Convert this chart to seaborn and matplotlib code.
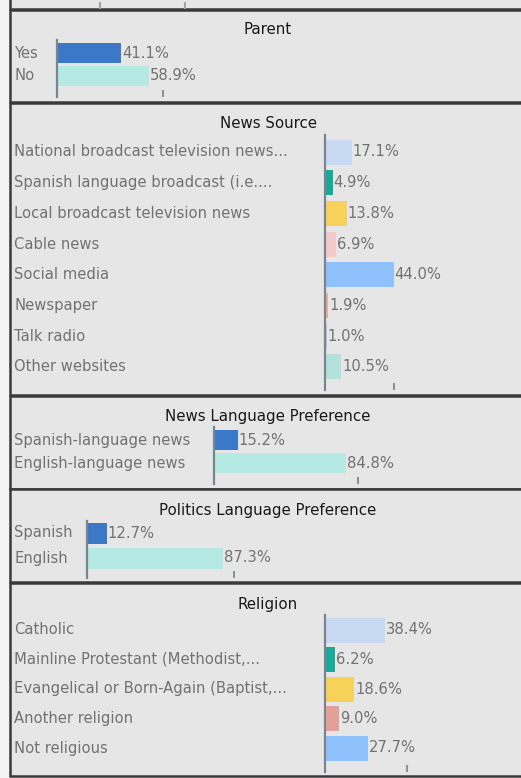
import matplotlib
matplotlib.use("Agg")
import matplotlib.pyplot as plt
import matplotlib.transforms as mtransforms
from matplotlib.patches import Rectangle
import seaborn as sns

# Chart data
parent_labels = ["Yes", "No"]
parent_values = [41.1, 58.9]

news_labels = ["National broadcast television news...", "Spanish language broadcast (i.e....",
               "Local broadcast television news", "Cable news", "Social media",
               "Newspaper", "Talk radio", "Other websites"]
news_values = [17.1, 4.9, 13.8, 6.9, 44.0, 1.9, 1.0, 10.5]

lang_labels = ["Spanish-language news", "English-language news"]
lang_values = [15.2, 84.8]

politics_labels = ["Spanish", "English"]
politics_values = [12.7, 87.3]

religion_labels = ["Catholic", "Mainline Protestant (Methodist,...",
                   "Evangelical or Born-Again (Baptist,...", "Another religion", "Not religious"]
religion_values = [38.4, 6.2, 18.6, 9.0, 27.7]

two_colors = ["#3b78c8", "#b4e9e4"]
news_colors = ["#c7daf1", "#17a999", "#f7d25a", "#f3caca", "#8fc2fd", "#f3a992", "#c8c8c8", "#b2e2db"]
religion_colors = ["#c7daf1", "#17a999", "#f7d25a", "#e3a098", "#8fc2fd"]

sns.set_style("white")
plt.rcParams['font.family'] = ['DejaVu Sans']

W, H = 521, 778
PX_PER_PCT = 1.56
LABEL_COLOR = "#727272"
PANEL_BG = "#e6e6e6"

fig = plt.figure(figsize=(W / 100, H / 100), dpi=100, facecolor="#f3f3f3")


def frame(top, bottom):
    rect = Rectangle((10 / W, 1 - bottom / H), (560 - 10) / W, (bottom - top) / H,
                     transform=fig.transFigure, facecolor=PANEL_BG,
                     edgecolor="#3a3a3a", linewidth=1.8, zorder=-5)
    fig.patches.append(rect)


# previous panel, cut off at the top
frame(-40, 9)
top_ax = fig.add_axes([0, 1 - 9 / H, 1, 9 / H])
top_ax.set_xlim(0, W)
top_ax.set_xticks([100, 185])
top_ax.tick_params(axis='x', bottom=True, direction='in', length=5, width=1.5,
                   color="#a0a6ac", labelbottom=False)
top_ax.set_yticks([])
top_ax.patch.set_alpha(0)
for s in top_ax.spines.values():
    s.set_visible(False)

panels = [
    # title, labels, values, colors, frame top/bottom, title y, axis x, axis top/bottom, first center, pitch, bar px, tick
    ("Parent", parent_labels, parent_values, two_colors, 10, 102, 30, 57, 40, 97, 53, 23, 20, 68),
    ("News Source", news_labels, news_values, news_colors, 103, 395, 124, 325, 135, 390, 152, 30.7, 25, 44),
    ("News Language Preference", lang_labels, lang_values, two_colors, 396, 489, 417, 214, 427, 484, 440, 23, 20, 92),
    ("Politics Language Preference", politics_labels, politics_values, two_colors, 489, 582, 511, 87, 521, 578, 533, 25, 21, 94),
    ("Religion", religion_labels, religion_values, religion_colors, 583, 776, 604, 325, 615, 772, 630, 29.5, 25, 52.5),
]

for (title, labels, values, colors, ftop, fbot, ty, ax_x, ax_top, ax_bot,
     c0, pitch, bar_px, tick) in panels:
    frame(ftop, fbot)
    fig.text(268 / W, 1 - ty / H, title, ha='center', va='center', fontsize=10.8, color="#1a1a1a")

    width_px = W - ax_x
    ax = fig.add_axes([ax_x / W, 1 - ax_bot / H, width_px / W, (ax_bot - ax_top) / H])
    sns.barplot(x=values, y=labels, hue=labels, palette=colors, legend=False, saturation=1,
                orient='h', width=bar_px / pitch, linewidth=0, ax=ax)
    ax.set_xlim(0, width_px / PX_PER_PCT)
    ax.set_ylim((ax_bot - c0) / pitch, (ax_top - c0) / pitch)
    ax.patch.set_alpha(0)
    for name, s in ax.spines.items():
        s.set_visible(name == 'left')
    ax.spines['left'].set_color("#7b858f")
    ax.spines['left'].set_linewidth(1.6)
    ax.set_yticks([])
    ax.set_xticks([tick])
    ax.tick_params(axis='x', bottom=True, direction='in', length=5, width=1.5,
                   color="#8a929a", labelbottom=False)
    ax.set_xlabel("")
    ax.set_ylabel("")

    trans = mtransforms.blended_transform_factory(fig.transFigure, ax.transData)
    for i, (lab, v) in enumerate(zip(labels, values)):
        ax.text(14 / W, i, lab, transform=trans, ha='left', va='center', fontsize=10.6, color=LABEL_COLOR)
        ax.text(v + 0.7, i, f"{v:.1f}%", ha='left', va='center', fontsize=10.6, color=LABEL_COLOR)

fig.savefig("out.png", dpi=100, facecolor=fig.get_facecolor())
